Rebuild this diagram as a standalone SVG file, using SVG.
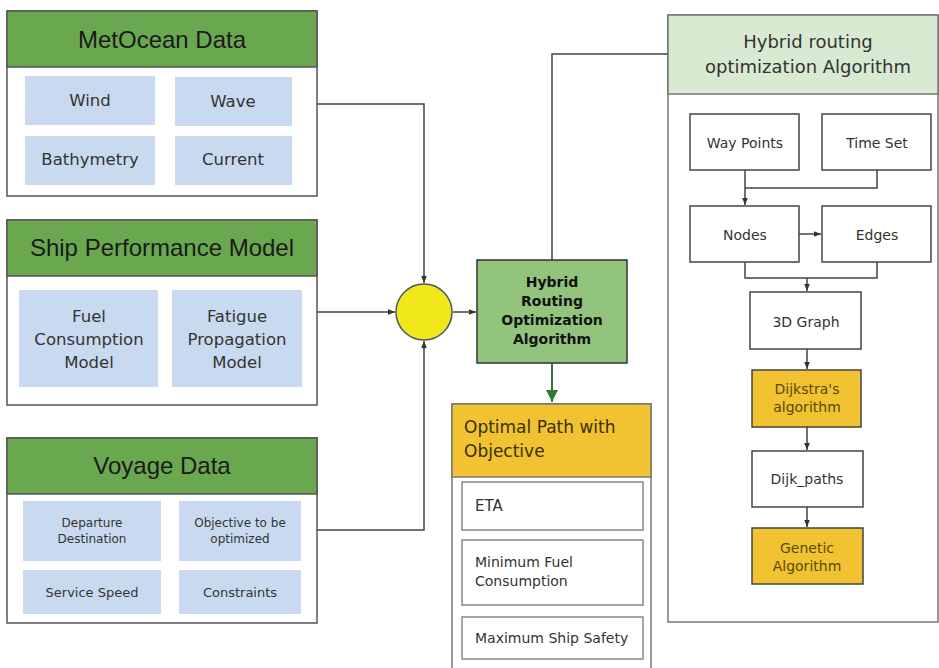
<svg xmlns="http://www.w3.org/2000/svg" width="939" height="668" viewBox="0 0 939 668">
<defs>
<style>
.outer{fill:#fff;stroke:#555;stroke-width:1.5}
.hdr{fill:#6aa84f;stroke:#555;stroke-width:1.5}
.cell{fill:#c9daf0}
.ht{font-family:"Liberation Sans",Arial,sans-serif;font-size:24px;fill:#1a1a1a;text-anchor:middle}
.ct{font-family:"DejaVu Sans",Verdana,sans-serif;font-size:16.5px;fill:#333;text-anchor:middle}
.st{font-family:"DejaVu Sans",Verdana,sans-serif;font-size:12px;fill:#333;text-anchor:middle}
.mt{font-family:"DejaVu Sans",Verdana,sans-serif;font-size:13px;fill:#333;text-anchor:middle}
.box{fill:#fff;stroke:#444;stroke-width:1.5}
.ybox{fill:#f1c232;stroke:#444;stroke-width:1.5}
.rt{font-family:"DejaVu Sans",Verdana,sans-serif;font-size:14px;fill:#333;text-anchor:middle}
.yt{font-family:"DejaVu Sans",Verdana,sans-serif;font-size:14px;fill:#5a4a00;text-anchor:middle}
.ot{font-family:"DejaVu Sans",Verdana,sans-serif;font-size:14px;fill:#333}
.obox{fill:#fff;stroke:#888;stroke-width:1.5}
.ln{fill:none;stroke:#444;stroke-width:1.5}
</style>
<marker id="ah" viewBox="0 0 10 10" refX="10" refY="5" markerWidth="7" markerHeight="7" markerUnits="userSpaceOnUse" orient="auto">
<path d="M0,1 L10,5 L0,9 Z" fill="#333"/>
</marker>
<marker id="gah" viewBox="0 0 10 10" refX="10" refY="5" markerWidth="12" markerHeight="12" markerUnits="userSpaceOnUse" orient="auto">
<path d="M0,0 L10,5 L0,10 Z" fill="#2e7d32"/>
</marker>
</defs>

<g id="algorithm-panel">
<rect class="outer" x="668" y="15" width="270" height="607" style="stroke:#777"/>
<rect x="668" y="15" width="270" height="79" fill="#d9ead3" stroke="#777" stroke-width="1.5"/>
<text x="808" y="48" style="font-family:'DejaVu Sans',Verdana,sans-serif;font-size:18px;fill:#333;text-anchor:middle">Hybrid routing</text>
<text x="808" y="73" style="font-family:'DejaVu Sans',Verdana,sans-serif;font-size:18px;fill:#333;text-anchor:middle">optimization Algorithm</text>
</g>

<g id="connectors">
<path class="ln" d="M317,104 H424 V283" marker-end="url(#ah)"/>
<path class="ln" d="M317,312 H395" marker-end="url(#ah)"/>
<path class="ln" d="M317,530 H424 V341" marker-end="url(#ah)"/>
<path class="ln" d="M453,312 H476" marker-end="url(#ah)"/>
<path class="ln" d="M552,260 V54 H668"/>
<path d="M552,363 V402" fill="none" stroke="#2e7d32" stroke-width="2" marker-end="url(#gah)"/>
<path class="ln" d="M745,170 V205" marker-end="url(#ah)"/>
<path class="ln" d="M877,170 V188 H745"/>
<path class="ln" d="M799,234 H821" marker-end="url(#ah)"/>
<path class="ln" d="M745,262 V278 H877 V262"/>
<path class="ln" d="M807,278 V291" marker-end="url(#ah)"/>
<path class="ln" d="M807,349 V369" marker-end="url(#ah)"/>
<path class="ln" d="M807,427 V450" marker-end="url(#ah)"/>
<path class="ln" d="M807,507 V527" marker-end="url(#ah)"/>
</g>

<g id="metocean">
<rect class="outer" x="7" y="11" width="310" height="185"/>
<rect class="hdr" x="7" y="11" width="310" height="56"/>
<text class="ht" x="162" y="48">MetOcean Data</text>
<rect class="cell" x="25" y="76" width="130" height="49"/>
<rect class="cell" x="175" y="77" width="117" height="49"/>
<rect class="cell" x="25" y="136" width="130" height="49"/>
<rect class="cell" x="175" y="136" width="117" height="49"/>
<text class="ct" x="90" y="106">Wind</text>
<text class="ct" x="233" y="107">Wave</text>
<text class="ct" x="90" y="165">Bathymetry</text>
<text class="ct" x="233" y="165">Current</text>
</g>

<g id="ship">
<rect class="outer" x="7" y="220" width="310" height="185"/>
<rect class="hdr" x="7" y="220" width="310" height="56"/>
<text class="ht" x="162" y="256">Ship Performance Model</text>
<rect class="cell" x="19" y="290" width="139" height="97"/>
<rect class="cell" x="172" y="290" width="130" height="97"/>
<text class="ct" x="89" y="322">Fuel</text>
<text class="ct" x="89" y="345">Consumption</text>
<text class="ct" x="89" y="368">Model</text>
<text class="ct" x="237" y="322">Fatigue</text>
<text class="ct" x="237" y="345">Propagation</text>
<text class="ct" x="237" y="368">Model</text>
</g>

<g id="voyage">
<rect class="outer" x="7" y="438" width="310" height="185"/>
<rect class="hdr" x="7" y="438" width="310" height="56"/>
<text class="ht" x="162" y="474">Voyage Data</text>
<rect class="cell" x="23" y="501" width="138" height="60"/>
<rect class="cell" x="179" y="501" width="122" height="60"/>
<rect class="cell" x="23" y="570" width="138" height="44"/>
<rect class="cell" x="179" y="570" width="122" height="44"/>
<text class="st" x="92" y="527">Departure</text>
<text class="st" x="92" y="543">Destination</text>
<text class="st" x="240" y="527">Objective to be</text>
<text class="st" x="240" y="543">optimized</text>
<text class="mt" x="92" y="597">Service Speed</text>
<text class="mt" x="240" y="597">Constraints</text>
</g>

<g id="merge">
<circle cx="424" cy="312" r="28" fill="#f0e81a" stroke="#555" stroke-width="1.5"/>
</g>

<g id="hybrid-routing">
<rect x="477" y="260" width="150" height="103" fill="#93c47d" stroke="#333" stroke-width="1.5"/>
<text class="rt" x="552" y="287" style="font-weight:bold;fill:#111">Hybrid</text>
<text class="rt" x="552" y="306" style="font-weight:bold;fill:#111">Routing</text>
<text class="rt" x="552" y="325" style="font-weight:bold;fill:#111">Optimization</text>
<text class="rt" x="552" y="344" style="font-weight:bold;fill:#111">Algorithm</text>
</g>

<g id="optimal-path">
<rect class="outer" x="452" y="404" width="199" height="280" style="stroke:#777"/>
<rect x="452" y="404" width="199" height="73" fill="#f1c232" stroke="#777" stroke-width="1.5"/>
<text x="464" y="433" style="font-family:'DejaVu Sans',Verdana,sans-serif;font-size:17px;fill:#3a3000">Optimal Path with</text>
<text x="464" y="457" style="font-family:'DejaVu Sans',Verdana,sans-serif;font-size:17px;fill:#3a3000">Objective</text>
<rect class="obox" x="462" y="482" width="181" height="48"/>
<rect class="obox" x="462" y="540" width="181" height="65"/>
<rect class="obox" x="462" y="617" width="181" height="42"/>
<text class="ot" x="475" y="511" style="font-size:15px">ETA</text>
<text class="ot" x="475" y="567">Minimum Fuel</text>
<text class="ot" x="475" y="586">Consumption</text>
<text class="ot" x="475" y="643">Maximum Ship Safety</text>
</g>

<g id="way-points">
<rect class="box" x="690" y="114" width="109" height="56"/>
<text class="rt" x="745" y="148">Way Points</text>
</g>
<g id="time-set">
<rect class="box" x="822" y="114" width="109" height="56"/>
<text class="rt" x="877" y="148">Time Set</text>
</g>
<g id="nodes">
<rect class="box" x="690" y="206" width="109" height="56"/>
<text class="rt" x="745" y="240">Nodes</text>
</g>
<g id="edges">
<rect class="box" x="822" y="206" width="109" height="56"/>
<text class="rt" x="877" y="240">Edges</text>
</g>
<g id="graph3d">
<rect class="box" x="750" y="292" width="111" height="57"/>
<text class="rt" x="806" y="327">3D Graph</text>
</g>
<g id="dijkstra">
<rect class="ybox" x="752" y="370" width="109" height="57"/>
<text class="yt" x="807" y="394">Dijkstra's</text>
<text class="yt" x="807" y="412">algorithm</text>
</g>
<g id="dijk-paths">
<rect class="box" x="752" y="451" width="111" height="56"/>
<text class="rt" x="807" y="484">Dijk_paths</text>
</g>
<g id="genetic">
<rect class="ybox" x="752" y="528" width="111" height="56"/>
<text class="yt" x="807" y="553">Genetic</text>
<text class="yt" x="807" y="571">Algorithm</text>
</g>
</svg>
